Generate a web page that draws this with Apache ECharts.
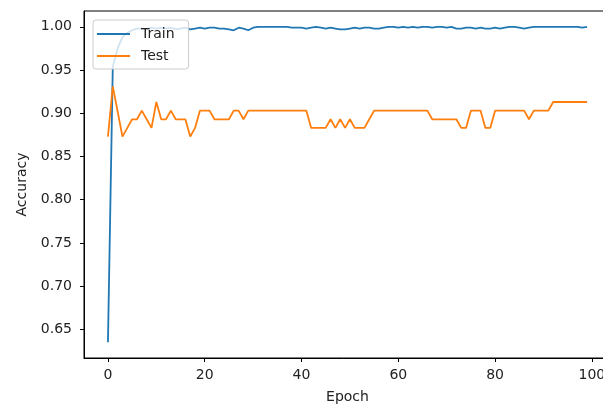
<!DOCTYPE html>
<html>
<head>
<meta charset="utf-8">
<title>Accuracy</title>
<script src="https://cdn.jsdelivr.net/npm/echarts@6/dist/echarts.min.js"></script>
<style>
  html, body { margin: 0; padding: 0; background: #fff; }
  #main { width: 603px; height: 405px; }
</style>
</head>
<body>
<div id="main"></div>
<script>
// accuracy per epoch
var trainAcc = [
  0.635, 0.954, 0.975, 0.988, 0.993, 0.996, 0.998, 0.998, 0.997, 0.999,
  0.998, 0.999, 0.998, 0.999, 0.997, 0.998, 0.999, 0.997, 0.998, 0.999,
  0.998, 0.999, 0.999, 0.998, 0.998, 0.997, 0.996, 0.999, 0.998, 0.996,
  0.999, 1.000, 1.000, 1.000, 1.000, 1.000, 1.000, 1.000, 0.999, 0.999,
  0.999, 0.998, 0.999, 1.000, 0.999, 0.998, 0.999, 0.998, 0.997, 0.997,
  0.998, 0.999, 0.998, 0.999, 0.999, 0.998, 0.998, 0.999, 1.000, 1.000,
  0.999, 1.000, 0.999, 1.000, 0.999, 1.000, 1.000, 0.999, 1.000, 1.000,
  0.999, 1.000, 0.998, 0.998, 0.999, 0.999, 0.998, 0.999, 0.998, 0.998,
  0.999, 0.998, 0.999, 1.000, 1.000, 0.999, 0.998, 0.999, 1.000, 1.000,
  1.000, 1.000, 1.000, 1.000, 1.000, 1.000, 1.000, 1.000, 0.999, 1.000
];
var testAcc = [
  0.873, 0.931, 0.902, 0.873, 0.883, 0.893, 0.893, 0.903, 0.893, 0.883,
  0.913, 0.893, 0.893, 0.903, 0.893, 0.893, 0.893, 0.873, 0.883, 0.903,
  0.903, 0.903, 0.893, 0.893, 0.893, 0.893, 0.903, 0.903, 0.893, 0.903,
  0.903, 0.903, 0.903, 0.903, 0.903, 0.903, 0.903, 0.903, 0.903, 0.903,
  0.903, 0.903, 0.883, 0.883, 0.883, 0.883, 0.893, 0.883, 0.893, 0.883,
  0.893, 0.883, 0.883, 0.883, 0.893, 0.903, 0.903, 0.903, 0.903, 0.903,
  0.903, 0.903, 0.903, 0.903, 0.903, 0.903, 0.903, 0.893, 0.893, 0.893,
  0.893, 0.893, 0.893, 0.883, 0.883, 0.903, 0.903, 0.903, 0.883, 0.883,
  0.903, 0.903, 0.903, 0.903, 0.903, 0.903, 0.903, 0.893, 0.903, 0.903,
  0.903, 0.903, 0.913, 0.913, 0.913, 0.913, 0.913, 0.913, 0.913, 0.913
];
var xTicks = [0, 20, 40, 60, 80, 100];
var yTicks = [0.65, 0.70, 0.75, 0.80, 0.85, 0.90, 0.95, 1.00];

function pairs(arr) {
  var out = [];
  for (var i = 0; i < arr.length; i++) out.push([i, arr[i]]);
  return out;
}

var chart = echarts.init(document.getElementById('main'), null, { renderer: 'canvas' });
var font = 'DejaVu Sans';
// plain line sample for the legend, no marker dot
var lineIcon = 'path://M0,0 L33,0 L33,2 L0,2 Z';

var option = {
  animation: false,
  backgroundColor: '#fff',
  textStyle: { fontFamily: font },
  grid: {
    left: 84, top: 11, width: 527, height: 347,
    outerBoundsMode: 'none',
    show: true, borderColor: '#000', borderWidth: 1
  },
  legend: {
    orient: 'vertical',
    left: 93, top: 20,
    padding: [7, 14, 6, 4],
    itemWidth: 33, itemHeight: 14, itemGap: 8,
    icon: lineIcon,
    backgroundColor: 'rgba(255,255,255,0.8)',
    borderColor: '#cccccc', borderWidth: 1, borderRadius: 3,
    textStyle: { fontFamily: font, fontSize: 14, color: '#222', padding: [0, 0, 0, 6] },
    data: ['Train', 'Test']
  },
  xAxis: {
    type: 'value',
    min: -4.95, max: 103.95,
    name: 'Epoch', nameLocation: 'middle', nameGap: 32,
    nameTextStyle: { fontFamily: font, fontSize: 14, color: '#222' },
    axisLine: { onZero: false, lineStyle: { color: '#000', width: 1 } },
    axisTick: { customValues: xTicks, length: 4, lineStyle: { color: '#000' } },
    axisLabel: { customValues: xTicks, fontSize: 14, color: '#222', margin: 10, fontFamily: font },
    splitLine: { show: false }
  },
  yAxis: {
    type: 'value',
    min: 0.6168, max: 1.0183,
    name: 'Accuracy', nameLocation: 'middle', nameGap: 55,
    nameTextStyle: { fontFamily: font, fontSize: 14, color: '#222' },
    axisLine: { show: true, onZero: false, lineStyle: { color: '#000', width: 1 } },
    axisTick: { show: true, customValues: yTicks, length: 4, lineStyle: { color: '#000' } },
    axisLabel: {
      customValues: yTicks, fontSize: 14, color: '#222', margin: 12, fontFamily: font,
      formatter: function (v) { return v.toFixed(2); }
    },
    splitLine: { show: false }
  },
  series: [
    {
      name: 'Train', type: 'line', data: pairs(trainAcc),
      symbol: 'none', color: '#1f77b4',
      lineStyle: { width: 1.8, color: '#1f77b4' }
    },
    {
      name: 'Test', type: 'line', data: pairs(testAcc),
      symbol: 'none', color: '#ff7f0e',
      lineStyle: { width: 1.8, color: '#ff7f0e' }
    }
  ]
};

chart.setOption(option);
</script>
</body>
</html>
